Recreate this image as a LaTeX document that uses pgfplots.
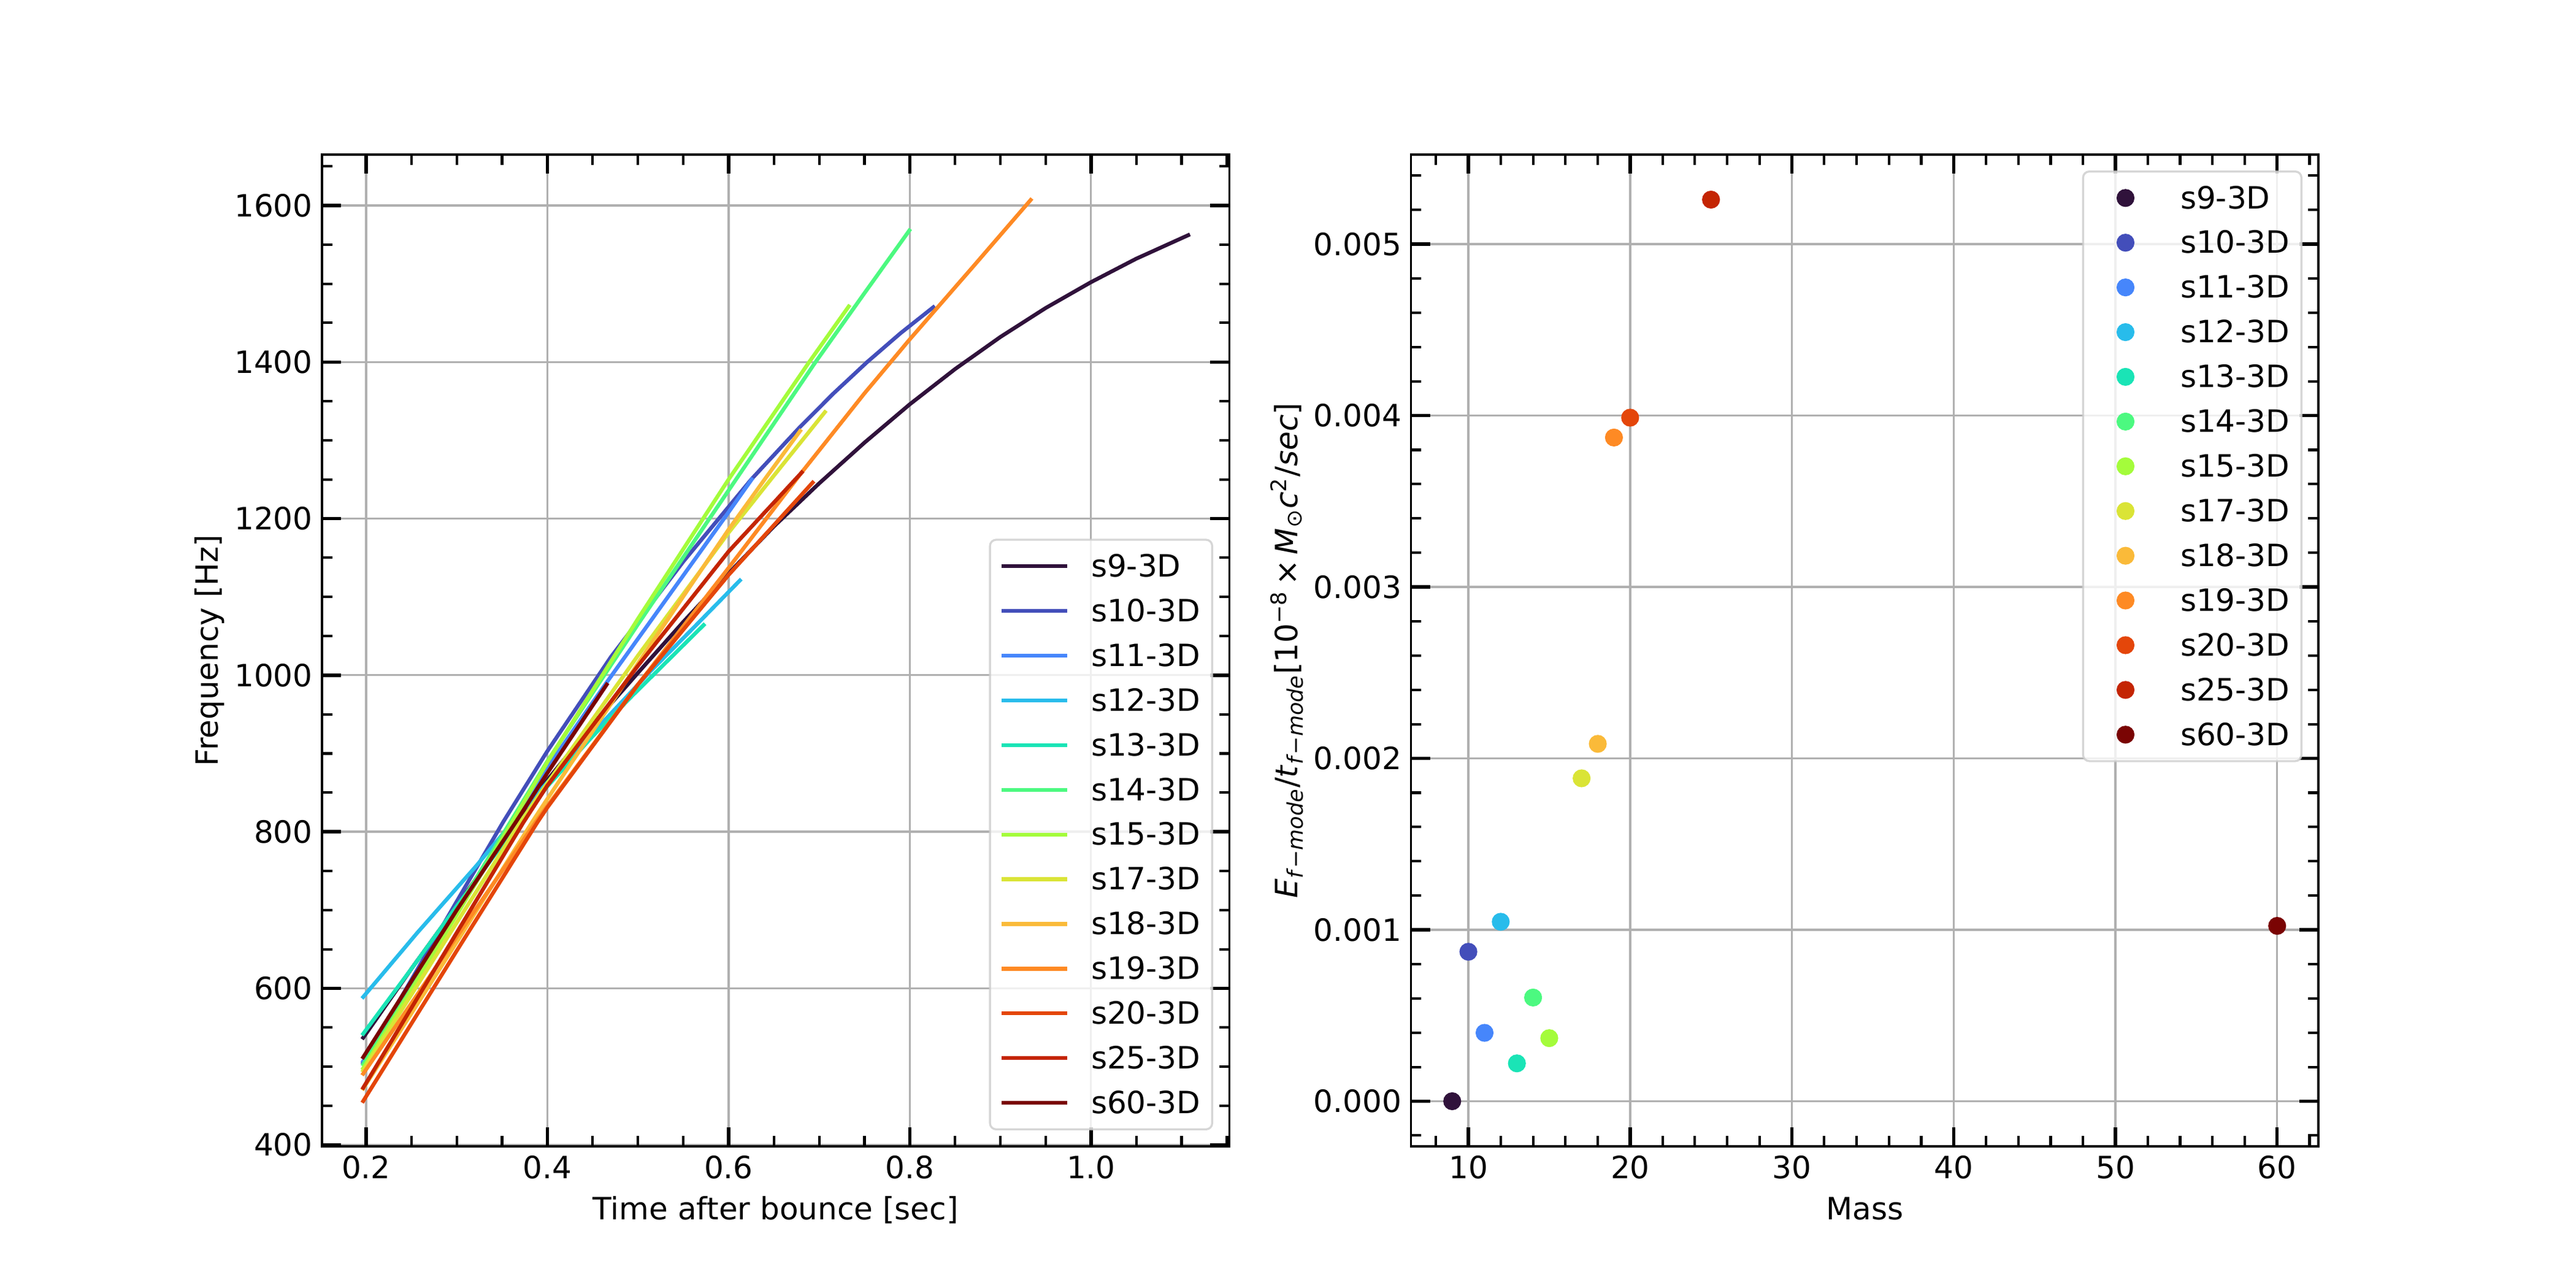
\documentclass[border=0pt]{standalone}
\usepackage{fontspec}
\setmainfont{DejaVu Sans}
\usepackage{pgfplots}
\pgfplotsset{compat=1.18}

\definecolor{c0}{HTML}{30123B}
\definecolor{c1}{HTML}{434EBA}
\definecolor{c2}{HTML}{4686FB}
\definecolor{c3}{HTML}{28BCEB}
\definecolor{c4}{HTML}{1AE4B6}
\definecolor{c5}{HTML}{4CF980}
\definecolor{c6}{HTML}{A4FC3B}
\definecolor{c7}{HTML}{DAE436}
\definecolor{c8}{HTML}{FABA39}
\definecolor{c9}{HTML}{FE8A24}
\definecolor{c10}{HTML}{E4460A}
\definecolor{c11}{HTML}{C42503}
\definecolor{c12}{HTML}{7A0403}
\definecolor{gridgray}{HTML}{B0B0B0}
\definecolor{legendgray}{HTML}{CCCCCC}

\newcommand{\mpl}{\fontsize{12.05}{14.4}\selectfont}

\pgfplotsset{
  mplaxis/.style={
    scale only axis, width=355.09bp, height=388.08bp,
    axis line style={line width=0.9bp, black},
    tick align=inside, xtick pos=both, ytick pos=both,
    xticklabel pos=lower, yticklabel pos=left,
    major tick length=7.5bp, minor tick length=4bp,
    major tick style={line width=1.3bp, black},
    minor tick style={line width=1bp, black},
    xmajorgrids, ymajorgrids,
    major grid style={line width=0.8bp, gridgray},
    tick label style={font=\mpl},
    xticklabel style={anchor=base, inner sep=0pt, yshift=-12.6bp},
    yticklabel style={anchor=east, inner sep=0pt, xshift=-3.5bp},
    xlabel style={font=\mpl, at={(axis description cs:0.5,-0.0737)}, anchor=base, inner sep=0pt},
    ylabel style={font=\mpl, anchor=south, inner sep=0pt},
    scaled ticks=false,
    legend cell align=left,
    legend style={font=\mpl, draw=legendgray, line width=0.8bp, rounded corners=2.4bp,
      fill=white, fill opacity=0.8, draw opacity=0.8, text opacity=1,
      row sep=0pt, column sep=9.5bp, inner xsep=4.6bp, inner ysep=1.6bp,
      nodes={inner sep=0pt, text height=12.9bp, text depth=4.6bp}},
  },
  mplline/.style={line width=1.5bp, line cap=rect, line join=round, mark=none},
  mpldot/.style={draw=none, mark=*, mark size=3bp, mark options={draw opacity=1, fill opacity=1, line width=1bp, draw=#1, fill=#1}},
}

\begin{document}
\begin{tikzpicture}
\path[use as bounding box] (0,0) rectangle (1008bp,504bp);

\begin{axis}[mplaxis, at={(126bp,55.44bp)}, anchor=south west,
  xmin=0.1513, xmax=1.1528, ymin=398.2, ymax=1665,
  xtick={0.2,0.4,0.6,0.8,1.0}, xticklabels={0.2,0.4,0.6,0.8,1.0},
  minor xtick={0.25,0.3,0.35,0.45,0.5,0.55,0.65,0.7,0.75,0.85,0.9,0.95,1.05,1.1,1.15},
  ytick={400,600,800,1000,1200,1400,1600}, yticklabels={400,600,800,1000,1200,1400,1600},
  minor ytick={450,500,550,650,700,750,850,900,950,1050,1100,1150,1250,1300,1350,1450,1500,1550,1650},
  xlabel={Time after bounce [sec]}, ylabel={Frequency [Hz]},
  ylabel style={at={(axis description cs:-0.1072,0.5)}},
  legend style={at={(1,0)}, anchor=south east, xshift=-6.36bp, yshift=6.24bp},
  legend image code/.code={\draw[#1, draw opacity=1] (0bp,0bp) -- (24bp,0bp);},
]
\addplot[mplline, c0] coordinates {(0.1968,537) (0.25,625) (0.3,705) (0.35,787) (0.4,866) (0.45,937) (0.5,1003) (0.55,1068) (0.6,1130) (0.65,1190) (0.7,1245) (0.75,1297) (0.8,1346) (0.85,1391) (0.9,1432) (0.95,1469) (1.0,1502) (1.05,1532) (1.1073,1562)};
\addlegendentry{s9-3D}
\addplot[mplline, c1] coordinates {(0.1968,505) (0.25,611) (0.3,711) (0.351,812) (0.4,903) (0.47,1023) (0.55,1145) (0.625,1250) (0.678,1316) (0.715,1359) (0.753,1400) (0.79,1437) (0.826,1470)};
\addlegendentry{s10-3D}
\addplot[mplline, c2] coordinates {(0.1968,507) (0.25,603) (0.3,695) (0.35,790) (0.4,882) (0.465,990) (0.53,1095) (0.595,1200) (0.6255,1250)};
\addlegendentry{s11-3D}
\addplot[mplline, c3] coordinates {(0.1968,589) (0.2565,671) (0.322,757) (0.36,810) (0.4,863) (0.45,926) (0.513,1004) (0.56,1059) (0.6125,1121)};
\addlegendentry{s12-3D}
\addplot[mplline, c4] coordinates {(0.1968,542) (0.25,625) (0.3,705) (0.35,783) (0.4,858) (0.45,922) (0.494,974) (0.535,1021) (0.5725,1064)};
\addlegendentry{s13-3D}
\addplot[mplline, c5] coordinates {(0.1968,503) (0.25,604) (0.3,700) (0.36,814) (0.4,890) (0.5,1065) (0.6,1236) (0.696,1400) (0.75,1488) (0.7995,1568)};
\addlegendentry{s14-3D}
\addplot[mplline, c6] coordinates {(0.1968,498) (0.25,598) (0.3,694) (0.36,810) (0.4,889) (0.5,1072) (0.6,1250) (0.689,1400) (0.7326,1471)};
\addlegendentry{s15-3D}
\addplot[mplline, c7] coordinates {(0.1968,495) (0.25,592) (0.3,684) (0.37,812) (0.4,862) (0.5,1025) (0.6,1182) (0.648,1252) (0.7063,1336)};
\addlegendentry{s17-3D}
\addplot[mplline, c8] coordinates {(0.1968,472) (0.25,568) (0.3,659) (0.383,812) (0.4,842) (0.5,1015) (0.6,1186) (0.641,1252) (0.679,1312)};
\addlegendentry{s18-3D}
\addplot[mplline, c9] coordinates {(0.1968,491) (0.25,581) (0.3,666) (0.387,812) (0.4,833) (0.5,988) (0.6,1137) (0.68,1258) (0.75,1360) (0.8,1429) (0.87,1522) (0.9334,1607)};
\addlegendentry{s19-3D}
\addplot[mplline, c10] coordinates {(0.1968,456) (0.25,555) (0.3,648) (0.389,812) (0.4,831) (0.5,988) (0.6,1128) (0.6928,1246)};
\addlegendentry{s20-3D}
\addplot[mplline, c11] coordinates {(0.1968,473) (0.25,575) (0.3,671) (0.3736,812) (0.4,859) (0.5,1012) (0.6,1158) (0.6808,1259)};
\addlegendentry{s25-3D}
\addplot[mplline, c12] coordinates {(0.1968,512) (0.25,609) (0.3,700) (0.365,812) (0.4,875) (0.4655,988)};
\addlegendentry{s60-3D}
\end{axis}

\begin{axis}[mplaxis, at={(552.11bp,55.44bp)}, anchor=south west,
  xmin=6.45, xmax=62.55, ymin=-0.000263, ymax=0.005523,
  xtick={10,20,30,40,50,60}, xticklabels={10,20,30,40,50,60},
  minor xtick={8,12,14,16,18,22,24,26,28,32,34,36,38,42,44,46,48,52,54,56,58,62},
  ytick={0,0.001,0.002,0.003,0.004,0.005}, yticklabels={0.000,0.001,0.002,0.003,0.004,0.005},
  minor ytick={-0.0002,0.0002,0.0004,0.0006,0.0008,0.0012,0.0014,0.0016,0.0018,0.0022,0.0024,0.0026,0.0028,0.0032,0.0034,0.0036,0.0038,0.0042,0.0044,0.0046,0.0048,0.0052,0.0054},
  xlabel={Mass},
  ylabel={\textit{E}\textsubscript{\textit{f}−\textit{mode}}/\textit{t}\textsubscript{\textit{f}−\textit{mode}}[10\textsuperscript{−8}\,×\,\textit{M}\textsubscript{⊙}\textit{c}\textsuperscript{2}/\textit{sec}]},
  ylabel style={at={(axis description cs:-0.1178,0.5)}},
  legend style={at={(1,1)}, anchor=north east, xshift=-6.24bp, yshift=-6.24bp},
  legend image code/.code={\draw[mark repeat=2, mark phase=2, #1, draw=none] plot coordinates {(0bp,0bp) (12bp,0bp) (24bp,0bp)};},
]
\addplot[mpldot=c0] coordinates {(9,0.0)};
\addlegendentry{s9-3D}
\addplot[mpldot=c1] coordinates {(10,0.000872)};
\addlegendentry{s10-3D}
\addplot[mpldot=c2] coordinates {(11,0.000399)};
\addlegendentry{s11-3D}
\addplot[mpldot=c3] coordinates {(12,0.001047)};
\addlegendentry{s12-3D}
\addplot[mpldot=c4] coordinates {(13,0.000221)};
\addlegendentry{s13-3D}
\addplot[mpldot=c5] coordinates {(14,0.000605)};
\addlegendentry{s14-3D}
\addplot[mpldot=c6] coordinates {(15,0.000368)};
\addlegendentry{s15-3D}
\addplot[mpldot=c7] coordinates {(17,0.001884)};
\addlegendentry{s17-3D}
\addplot[mpldot=c8] coordinates {(18,0.002085)};
\addlegendentry{s18-3D}
\addplot[mpldot=c9] coordinates {(19,0.003872)};
\addlegendentry{s19-3D}
\addplot[mpldot=c10] coordinates {(20,0.003988)};
\addlegendentry{s20-3D}
\addplot[mpldot=c11] coordinates {(25,0.00526)};
\addlegendentry{s25-3D}
\addplot[mpldot=c12] coordinates {(60,0.001023)};
\addlegendentry{s60-3D}
\end{axis}
\end{tikzpicture}
\end{document}
